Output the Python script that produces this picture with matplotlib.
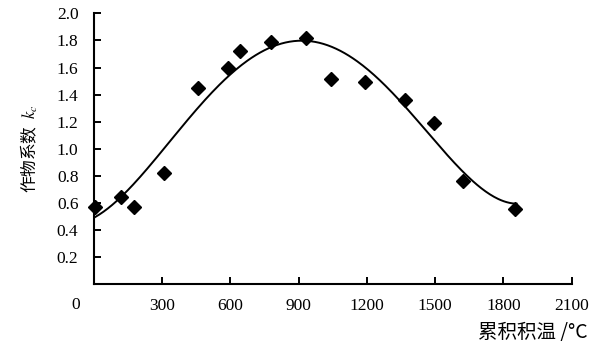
import matplotlib.pyplot as plt
import numpy as np

plt.rcParams['font.family'] = ['Liberation Serif', 'Noto Sans CJK SC', 'DejaVu Sans']
plt.rcParams['mathtext.fontset'] = 'stix'

# observed crop coefficient points
gdd = [5, 120, 177, 309, 458, 590, 643, 779, 933, 1043, 1192, 1368, 1495, 1623, 1851]
kc = [0.57, 0.645, 0.57, 0.82, 1.45, 1.60, 1.72, 1.79, 1.82, 1.515, 1.49, 1.36, 1.19, 0.76, 0.56]

# points
curve_gdd = [6, 130, 277, 423, 555, 775, 907, 1038, 1185, 1331, 1478, 1624, 1771, 1858]
curve_kc = [0.50, 0.66, 0.92, 1.26, 1.47, 1.75, 1.80, 1.75, 1.59, 1.41, 1.11, 0.81, 0.635, 0.60]

x_ticks = [300, 600, 900, 1200, 1500, 1800, 2100]
y_ticks = [0.2, 0.4, 0.6, 0.8, 1.0, 1.2, 1.4, 1.6, 1.8, 2.0]

fig = plt.figure(figsize=(6.03, 3.52), dpi=100)
ax = fig.add_axes([0.1554, 0.192, 0.7926, 0.770])

coef = np.polyfit(curve_gdd, curve_kc, 5)
xs = np.linspace(curve_gdd[0], curve_gdd[-1], 300)
ax.plot(xs, np.polyval(coef, xs), color='black', lw=1.4)
ax.plot(gdd, kc, 'D', color='black', ms=7, clip_on=False)

ax.set_xlim(0, 2100)
ax.set_ylim(0, 2.0)
ax.set_xticks(x_ticks)
ax.set_yticks(y_ticks)
ax.set_yticklabels([f'{v:.1f}' for v in y_ticks])

for side in ['top', 'right']:
    ax.spines[side].set_visible(False)
for side in ['bottom', 'left']:
    ax.spines[side].set_linewidth(1.5)

ax.tick_params(axis='both', direction='in', length=5, width=1.4, labelsize=12.5)
ax.tick_params(axis='x', pad=10)
ax.tick_params(axis='y', pad=11)

ax.annotate('0', xy=(0, 0), xytext=(-12.7, -15), textcoords='offset points',
            ha='center', va='center', fontsize=12.5)

ax.set_ylabel('作物系数  $k_c$', fontsize=12, labelpad=12,
              family=['Noto Sans CJK SC', 'DejaVu Sans'])
fig.text(0.975, 0.054, '累积积温 /°C', ha='right', va='center', fontsize=14,
         family=['Noto Sans CJK SC', 'DejaVu Sans'])

fig.savefig('out.png', dpi=100)
